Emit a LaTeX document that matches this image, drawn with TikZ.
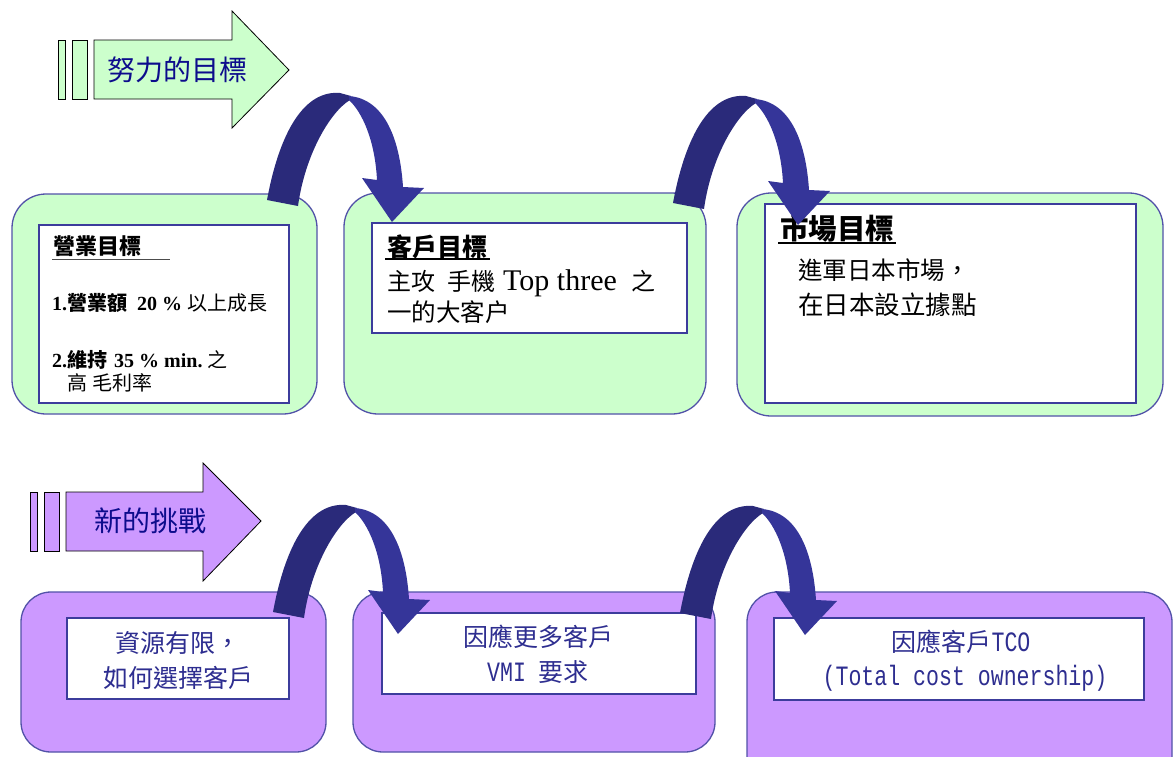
\documentclass[tikz,border=0pt]{standalone}
\usepackage{fontspec}
\newfontfamily\cjk{Noto Sans CJK TC}
\newfontfamily\ser{Liberation Serif}
\newfontfamily\mono[FakeStretch=0.77]{Liberation Mono}
\definecolor{gfill}{HTML}{CCFFCC}
\definecolor{pfill}{HTML}{CC99FF}
\definecolor{bord}{HTML}{5252A8}
\definecolor{inbord}{HTML}{3C3C9C}
\definecolor{arrdark}{HTML}{2A2A7A}
\definecolor{arrlight}{HTML}{353599}
\definecolor{navy}{HTML}{0C0C8C}
\definecolor{ptext}{HTML}{2E2E90}
\newcommand\ribbonarrow[2]{%
  \begin{scope}[shift={(#1,#2)}]
    \fill[arrdark] (267,200) .. controls (280,130) and (305,90) .. (340,93) -- (351,96) -- (350,100) .. controls (330,112) and (305,155) .. (298,206) -- cycle;
    \fill[arrlight] (349,96) .. controls (385,99) and (400,140) .. (403,187) -- (424,188) -- (392,222) -- (362,178) -- (377,180) .. controls (375,140) and (362,112) .. (349,100) -- cycle;
  \end{scope}}
\tikzset{
  outerbox/.style={draw=bord, line width=1.3pt, rounded corners=34pt},
  innerbox/.style={draw=inbord, line width=1.2pt, fill=white},
  titlearr/.style={draw=black, line width=0.8pt},
  txt/.style={inner sep=0pt, anchor=west},
  ptxt/.style={inner sep=0pt, text=ptext, font=\cjk\fontsize{25}{30}\selectfont},
  ttl/.style={inner sep=0pt, text=navy, font=\cjk\fontsize{28}{34}\selectfont},
}
\begin{document}
\begin{tikzpicture}[x=1pt,y=-1pt]
\useasboundingbox (0,0) rectangle (1173,756);
\clip (0,0) rectangle (1173,756);
\fill[white] (0,0) rectangle (1173,756);

% ---------- title arrow 1 ----------
\draw[titlearr, fill=gfill] (58,40) rectangle (65,99);
\draw[titlearr, fill=gfill] (72,40) rectangle (87,99);
\draw[titlearr, fill=gfill] (94,40) -- (232,40) -- (232,11) -- (289,70) -- (232,128) -- (232,99) -- (94,99) -- cycle;
\node[ttl] (title1) at (177,70) {努力的目標};

% ---------- green boxes ----------
\draw[outerbox, fill=gfill] (12,194) rectangle (317,414);
\draw[outerbox, fill=gfill] (344,193) rectangle (706,414);
\draw[outerbox, fill=gfill] (737,193) rectangle (1163,416);
\draw[innerbox] (39,225) rectangle (289,403);
\draw[innerbox] (372,223) rectangle (687,333);
\draw[innerbox] (765,204) rectangle (1136,403);

% box 1 text
\node[txt, font=\cjk\bfseries\fontsize{22}{26}\selectfont] (t11) at (53,246) {營業目標};
\draw[draw=black!70, line width=1pt] (52,259) -- (170,259);
\node[txt] (t12) at (52,303) {\fontsize{20}{24}\selectfont{\ser\bfseries 1.}{\cjk\bfseries 營業額}\hspace{10pt}{\ser\bfseries 20 \%}\hspace{5pt}{\cjk 以上成長}};
\node[txt] (t13) at (52,360) {\fontsize{20}{24}\selectfont{\ser\bfseries 2.}{\cjk\bfseries 維持}\hspace{7pt}{\ser\bfseries 35 \% min.}\hspace{5pt}{\cjk 之}};
\node[txt] (t14) at (67,383) {\fontsize{20}{24}\selectfont{\cjk 高\hspace{5pt}毛利率}};

% box 2 text
\node[txt, font=\cjk\bfseries\fontsize{25}{30}\selectfont] (t21) at (387,247) {客戶目標};
\draw[black, line width=1.2pt] (385,259) -- (490,259);
\node[txt] (t22) at (387,283) {{\cjk\fontsize{24}{28}\selectfont 主攻\hspace{12pt}手機}\hspace{8pt}{\ser\fontsize{30}{34}\selectfont Top three}\hspace{15pt}{\cjk\fontsize{24}{28}\selectfont 之}};
\node[txt, font=\cjk\fontsize{24.5}{28}\selectfont] (t23) at (387,312) {一的大客户};

% box 3 text
\node[txt, font=\cjk\bfseries\fontsize{28.5}{34}\selectfont] (t31) at (780,229) {市場目標};
\draw[black, line width=1.5pt] (778,243) -- (896,243);
\node[txt, font=\cjk\fontsize{24.5}{30}\selectfont] (t32) at (798,270) {進軍日本市場，};
\node[txt, font=\cjk\fontsize{25.5}{30}\selectfont] (t33) at (798,305) {在日本設立據點};

% ---------- title arrow 2 ----------
\draw[titlearr, fill=pfill] (30,492) rectangle (37,551);
\draw[titlearr, fill=pfill] (44,492) rectangle (59,551);
\draw[titlearr, fill=pfill] (66,492) -- (203,492) -- (203,463) -- (261,521) -- (203,581) -- (203,551) -- (66,551) -- cycle;
\node[ttl] (title2) at (150,521) {新的挑戰};

% ---------- purple boxes ----------
\draw[outerbox, fill=pfill, rounded corners=30pt] (21,592) rectangle (326,752);
\draw[outerbox, fill=pfill, rounded corners=30pt] (353,592) rectangle (715,752);
\draw[outerbox, fill=pfill, rounded corners=30pt] (747,592) rectangle (1172,800);
\draw[innerbox] (67,618) rectangle (289,699);
\draw[innerbox] (382,613) rectangle (696,694);
\draw[innerbox] (774,618) rectangle (1144,700);

\node[ptxt] (p11) at (178,643) {資源有限，};
\node[ptxt] (p12) at (178,678) {如何選擇客戶};
\node[ptxt] (p21) at (538,637) {因應更多客戶};
\node[ptxt] (p22) at (538,672) {{\mono\fontsize{28}{30}\selectfont VMI }要求};
\node[ptxt] (p31) at (961,642) {因應客戶{\mono\fontsize{28}{30}\selectfont TCO}};
\node[ptxt, font=\mono\fontsize{28}{30}\selectfont] (p32) at (965,678) {(Total cost ownership)};

% ---------- curved ribbon arrows ----------
\ribbonarrow{0}{0}
\ribbonarrow{406}{3}
\ribbonarrow{6}{412}
\ribbonarrow{413}{413}
\end{tikzpicture}
\end{document}
